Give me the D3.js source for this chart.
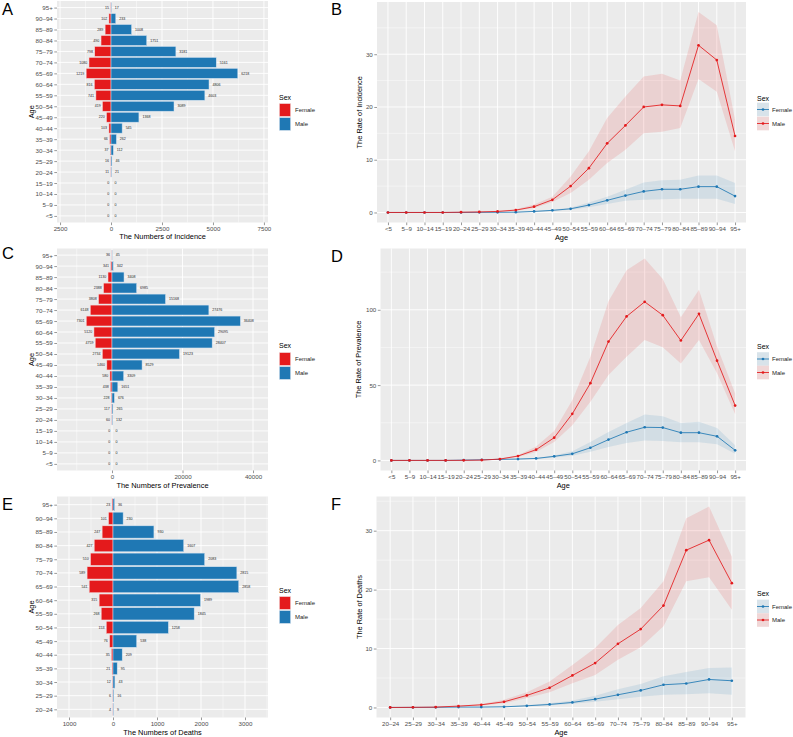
<!DOCTYPE html>
<html><head><meta charset="utf-8">
<script src="https://cdn.jsdelivr.net/npm/d3@7"></script>
<style>
body{margin:0;background:#fff;overflow:hidden}
svg{display:block}
text{font-family:"Liberation Sans",Arial,Helvetica,sans-serif}
</style>
</head><body>
<svg id="c" width="793" height="737"></svg>
<script>
// ---------- DATA ----------
const ages20 = ["<5","5–9","10–14","15–19","20–24","25–29","30–34","35–39","40–44","45–49","50–54","55–59","60–64","65–69","70–74","75–79","80–84","85–89","90–94","95+"];
const ages16 = ages20.slice(4);

// A: numbers of incidence
const incFemale = [0,0,0,0,11,16,37,66,103,220,419,741,816,1219,1080,798,490,289,102,15];
const incMale   = [0,0,0,0,21,46,112,262,545,1368,3089,4603,4806,6218,5161,3181,1751,1008,233,17];
// C: numbers of prevalence
const prevFemale = [0,0,0,0,60,117,228,438,580,1460,2734,4759,5120,7301,6148,3808,2388,1130,341,36];
const prevMale   = [0,0,0,0,132,265,676,1651,3309,8529,19123,28407,29095,36408,27476,15168,6985,3408,342,45];
// E: numbers of deaths (20-24 .. 95+)
const deathFemale = [4,6,12,21,35,76,153,268,315,541,589,510,427,247,101,23];
const deathMale   = [9,16,43,95,209,538,1258,1845,1989,2858,2815,2083,1607,930,230,36];

// B: rate of incidence
const incRateMale     = [0,0,0,0,0.05,0.1,0.2,0.45,1.1,2.4,5.0,8.4,13.1,16.5,20.0,20.4,20.2,31.7,28.9,14.5];
const incRateMaleLo   = [0,0,0,0,0.04,0.08,0.15,0.35,0.85,2.0,3.7,6.2,9.4,11.9,15.0,15.3,16.0,25.3,22.9,11.6];
const incRateMaleHi   = [0,0,0,0,0.07,0.13,0.27,0.6,1.5,3.0,6.8,11.6,17.9,22.0,25.8,26.3,25.0,38.0,35.5,17.6];
const incRateFemale   = [0,0,0,0,0.01,0.02,0.03,0.05,0.2,0.4,0.7,1.4,2.3,3.2,4.0,4.4,4.4,4.9,4.9,3.1];
const incRateFemaleLo = [0,0,0,0,0.01,0.01,0.02,0.04,0.15,0.3,0.5,1.0,1.6,2.2,2.4,2.5,2.6,2.6,2.6,1.6];
const incRateFemaleHi = [0,0,0,0,0.02,0.03,0.04,0.07,0.25,0.5,0.9,1.9,3.0,4.3,5.7,6.1,6.2,7.0,7.0,5.6];
// D: rate of prevalence
const prevRateMale     = [0,0,0,0,0.05,0.2,0.9,2.9,7.1,15.1,30.9,51.3,78.9,95.6,105.3,96.4,79.6,97.3,66.2,36.4];
const prevRateMaleLo   = [0,0,0,0,0.03,0.15,0.7,2.3,5.6,12.2,23.3,38.9,56.7,68.9,80,75.1,64.4,80,57.8,30.7];
const prevRateMaleHi   = [0,0,0,0,0.08,0.3,1.1,3.5,9.3,19.6,40,68.9,105.6,126.2,134,120.4,95.1,113.3,75.6,44.4];
const prevRateFemale   = [0,0,0,0,0.2,0.4,0.7,0.9,1.3,2.7,4.4,8.4,13.8,18.7,22,21.8,18.4,18.4,16,6.7];
const prevRateFemaleLo = [0,0,0,0,0.15,0.3,0.5,0.7,1.0,2.0,3.1,5.8,8.9,11.6,13.3,12.9,12,12,10.7,4.4];
const prevRateFemaleHi = [0,0,0,0,0.25,0.5,0.9,1.1,1.6,3.3,6,12.2,18.9,24.9,30.4,29.3,24.9,25.6,21.6,10];
// F: rate of deaths (20-24 .. 95+)
const deathRateMale     = [0,0.02,0.06,0.23,0.45,0.96,2.04,3.34,5.43,7.53,10.8,13.3,17.3,26.7,28.4,21.1];
const deathRateMaleLo   = [0,0.01,0.04,0.17,0.34,0.7,1.6,2.6,4.1,5.5,8.1,10.2,13.8,21.4,22.1,16.6];
const deathRateMaleHi   = [0,0.03,0.08,0.3,0.6,1.3,2.6,4.4,7.2,10.1,14.0,16.9,21.4,32.1,34.1,25.6];
const deathRateFemale   = [0,0.01,0.02,0.06,0.06,0.11,0.28,0.51,0.85,1.41,2.15,2.89,3.85,4.07,4.75,4.53];
const deathRateFemaleLo = [0,0.005,0.01,0.04,0.04,0.08,0.2,0.34,0.62,0.96,1.4,1.8,2.15,2.26,2.4,2.15];
const deathRateFemaleHi = [0,0.015,0.03,0.08,0.08,0.15,0.38,0.7,1.2,2.0,3.1,4.0,5.3,6.0,6.7,6.8];

const sexLabels = ["Female","Male"];

// ---------- STYLE ----------
const RED = "#E41A1C", BLUE = "#1F78B4";
const BG = "#EBEBEB", TICKTXT = "#4D4D4D", TICKLN = "#333333";
const TICKFS = 6.2, TITLEFS = 7.4;

const svg = d3.select("#c");

function styleAxis(g){
  g.select(".domain").remove();
  g.selectAll(".tick line").attr("stroke", TICKLN).attr("stroke-width", 0.5);
  g.selectAll(".tick text").attr("fill", TICKTXT).attr("font-size", TICKFS)
    .attr("font-family", "Liberation Sans, Arial, sans-serif");
}

function letter(t, x, y){
  svg.append("text").attr("x", x).attr("y", y).attr("font-size", 16.5).attr("fill","#000").text(t);
}

function pyramid(cfg){
  const {cats, fem, male, x0, x1, y0, y1, domain, ticks, minor, xtitle, titleY, leg} = cfg;
  const g = svg.append("g");
  const x = d3.scaleLinear().domain(domain).range([x0, x1]);
  const y = d3.scalePoint().domain(cats.slice().reverse()).range([y0, y1]).padding(0.6);
  const bh = y.step() * 0.9;
  g.append("rect").attr("x", x0).attr("y", y0).attr("width", x1 - x0).attr("height", y1 - y0).attr("fill", BG);
  g.selectAll(".mn").data(minor).join("line").attr("x1", d => x(d)).attr("x2", d => x(d))
    .attr("y1", y0).attr("y2", y1).attr("stroke", "#fff").attr("stroke-width", 0.45);
  g.selectAll(".mj").data(ticks).join("line").attr("x1", d => x(d)).attr("x2", d => x(d))
    .attr("y1", y0).attr("y2", y1).attr("stroke", "#fff").attr("stroke-width", 0.9);
  g.selectAll(".hj").data(cats).join("line").attr("x1", x0).attr("x2", x1)
    .attr("y1", d => y(d)).attr("y2", d => y(d)).attr("stroke", "#fff").attr("stroke-width", 0.9);
  const rows = cats.map((c, i) => ({c, f: fem[i], m: male[i]}));
  g.selectAll(".bf").data(rows).join("rect")
    .attr("x", d => x(-d.f)).attr("width", d => x(0) - x(-d.f))
    .attr("y", d => y(d.c) - bh/2).attr("height", bh)
    .attr("fill", RED).attr("stroke", "#f3d6d6").attr("stroke-width", 0.5);
  g.selectAll(".bm").data(rows).join("rect")
    .attr("x", x(0)).attr("width", d => x(d.m) - x(0))
    .attr("y", d => y(d.c) - bh/2).attr("height", bh)
    .attr("fill", BLUE).attr("stroke", "#cfe0f0").attr("stroke-width", 0.5);
  g.selectAll(".lf").data(rows).join("text")
    .attr("x", d => x(-d.f) - 1.8).attr("y", d => y(d.c) + 1.2)
    .attr("text-anchor", "end").attr("font-size", 3.6).attr("fill", "#222").text(d => d.f);
  g.selectAll(".lm").data(rows).join("text")
    .attr("x", d => x(d.m) + 3.5).attr("y", d => y(d.c) + 1.2)
    .attr("text-anchor", "start").attr("font-size", 3.6).attr("fill", "#222").text(d => d.m);
  const ax = g.append("g").attr("transform", `translate(0,${y1})`)
    .call(d3.axisBottom(x).tickValues(ticks).tickFormat(d => Math.abs(d)).tickSize(2.7).tickPadding(1.5));
  styleAxis(ax);
  const ay = g.append("g").attr("transform", `translate(${x0},0)`)
    .call(d3.axisLeft(y).tickSize(2.7).tickPadding(1.5));
  styleAxis(ay);
  g.append("text").attr("x", (x0 + x1)/2).attr("y", titleY).attr("text-anchor", "middle")
    .attr("font-size", TITLEFS).text(xtitle);
  g.append("text").attr("transform", `translate(34,${(y0 + y1)/2}) rotate(-90)`)
    .attr("text-anchor", "middle").attr("font-size", TITLEFS).text("Age");
  // legend
  const lg = g.append("g");
  lg.append("text").attr("x", 279).attr("y", leg.sex).attr("font-size", 7).text("Sex");
  [[RED, leg.f], [BLUE, leg.m]].forEach(([col, cy], i) => {
    lg.append("rect").attr("x", 279).attr("y", cy - 6.8).attr("width", 12).attr("height", 13.6).attr("fill", "#F2F2F2");
    lg.append("rect").attr("x", 279.5).attr("y", cy - 6.3).attr("width", 11).attr("height", 12.6).attr("fill", col)
      .attr("stroke", i ? "#cfe0f0" : "#f3d6d6").attr("stroke-width", 0.5);
    lg.append("text").attr("x", 295).attr("y", cy + 2).attr("font-size", 6).attr("fill", "#222").text(sexLabels[i]);
  });
}

function rates(cfg){
  const {cats, series, x0, x1, y0, y1, ticks, minor, ytitle, titleX, titleY, leg} = cfg;
  const g = svg.append("g");
  const x = d3.scalePoint().domain(cats).range([x0, x1]).padding(0.6);
  const maxV = d3.max(series, s => d3.max(s.hi));
  const y = d3.scaleLinear().domain([-0.05 * maxV, maxV * 1.05]).range([y1, y0]);
  g.append("rect").attr("x", x0).attr("y", y0).attr("width", x1 - x0).attr("height", y1 - y0).attr("fill", BG);
  g.selectAll(".mn").data(minor.filter(v => y(v) >= y0)).join("line").attr("x1", x0).attr("x2", x1)
    .attr("y1", d => y(d)).attr("y2", d => y(d)).attr("stroke", "#fff").attr("stroke-width", 0.45);
  g.selectAll(".mj").data(ticks).join("line").attr("x1", x0).attr("x2", x1)
    .attr("y1", d => y(d)).attr("y2", d => y(d)).attr("stroke", "#fff").attr("stroke-width", 0.9);
  g.selectAll(".vj").data(cats).join("line").attr("x1", d => x(d)).attr("x2", d => x(d))
    .attr("y1", y0).attr("y2", y1).attr("stroke", "#fff").attr("stroke-width", 0.9);
  const area = d3.area().x(d => x(d.c)).y0(d => y(d.lo)).y1(d => y(d.hi));
  const line = d3.line().x(d => x(d.c)).y(d => y(d.v));
  const pts = series.map(s => cats.map((c, i) => ({c, v: s.v[i], lo: s.lo[i], hi: s.hi[i]})));
  series.forEach((s, k) => {
    g.append("path").attr("d", area(pts[k])).attr("fill", s.col).attr("fill-opacity", 0.12);
  });
  series.forEach((s, k) => {
    g.append("path").attr("d", line(pts[k])).attr("fill", "none").attr("stroke", s.col).attr("stroke-width", 0.85);
    g.selectAll(null).data(pts[k]).join("circle").attr("cx", d => x(d.c)).attr("cy", d => y(d.v))
      .attr("r", 1.35).attr("fill", s.col);
  });
  const ax = g.append("g").attr("transform", `translate(0,${y1})`)
    .call(d3.axisBottom(x).tickSize(2.7).tickPadding(1.5));
  styleAxis(ax);
  const ay = g.append("g").attr("transform", `translate(${x0},0)`)
    .call(d3.axisLeft(y).tickValues(ticks).tickSize(2.7).tickPadding(1.5));
  styleAxis(ay);
  g.append("text").attr("x", (x0 + x1)/2).attr("y", titleY).attr("text-anchor", "middle")
    .attr("font-size", TITLEFS).text("Age");
  g.append("text").attr("transform", `translate(${titleX},${(y0 + y1)/2}) rotate(-90)`)
    .attr("text-anchor", "middle").attr("font-size", TITLEFS).text(ytitle);
  // legend
  const lg = g.append("g");
  lg.append("text").attr("x", 757).attr("y", leg.sex).attr("font-size", 7).text("Sex");
  [[BLUE, leg.f], [RED, leg.m]].forEach(([col, cy], i) => {
    lg.append("rect").attr("x", 757).attr("y", cy - 6.8).attr("width", 12).attr("height", 13.6).attr("fill", "#F2F2F2");
    lg.append("rect").attr("x", 757).attr("y", cy - 6.8).attr("width", 12).attr("height", 13.6).attr("fill", col).attr("fill-opacity", 0.12);
    lg.append("line").attr("x1", 757).attr("x2", 769).attr("y1", cy).attr("y2", cy).attr("stroke", col).attr("stroke-width", 0.85);
    lg.append("circle").attr("cx", 763).attr("cy", cy).attr("r", 1.35).attr("fill", col);
    lg.append("text").attr("x", 772).attr("y", cy + 2).attr("font-size", 6).attr("fill", "#222").text(sexLabels[i]);
  });
}

// ---------- PANELS ----------
pyramid({cats: ages20, fem: incFemale, male: incMale, x0: 57, x1: 268, y0: 1, y1: 222.5,
  domain: [-2650, 7700], ticks: [-2500, 0, 2500, 5000, 7500], minor: [-1250, 1250, 3750, 6250],
  xtitle: "The Numbers of Incidence", titleY: 239, leg: {sex: 100, f: 110, m: 124}});
pyramid({cats: ages20, fem: prevFemale, male: prevMale, x0: 57, x1: 268, y0: 248.5, y1: 470.5,
  domain: [-15600, 44250], ticks: [0, 20000, 40000], minor: [-10000, 10000, 30000],
  xtitle: "The Numbers of Prevalence", titleY: 487.5, leg: {sex: 348, f: 359, m: 373}});
pyramid({cats: ages16, fem: deathFemale, male: deathMale, x0: 57, x1: 268, y0: 496.5, y1: 717.5,
  domain: [-1273, 3523], ticks: [-1000, 0, 1000, 2000, 3000], minor: [-500, 500, 1500, 2500, 3500],
  xtitle: "The Numbers of Deaths", titleY: 734.5, leg: {sex: 593, f: 603, m: 617}});

rates({cats: ages20, x0: 377, x1: 746, y0: 2, y1: 222.5,
  series: [{v: incRateFemale, lo: incRateFemaleLo, hi: incRateFemaleHi, col: BLUE},
           {v: incRateMale, lo: incRateMaleLo, hi: incRateMaleHi, col: RED}],
  ticks: [0, 10, 20, 30], minor: [5, 15, 25, 35], ytitle: "The Rate of Incidence", titleX: 362, titleY: 239.5,
  leg: {sex: 100.5, f: 109.5, m: 123.5}});
rates({cats: ages20, x0: 380.5, x1: 746, y0: 248.5, y1: 470.5,
  series: [{v: prevRateFemale, lo: prevRateFemaleLo, hi: prevRateFemaleHi, col: BLUE},
           {v: prevRateMale, lo: prevRateMaleLo, hi: prevRateMaleHi, col: RED}],
  ticks: [0, 50, 100], minor: [25, 75, 125], ytitle: "The Rate of Prevalence", titleX: 361, titleY: 487.5,
  leg: {sex: 348.5, f: 359, m: 372.5}});
rates({cats: ages16, x0: 376.5, x1: 745.5, y0: 496.5, y1: 717.5,
  series: [{v: deathRateFemale, lo: deathRateFemaleLo, hi: deathRateFemaleHi, col: BLUE},
           {v: deathRateMale, lo: deathRateMaleLo, hi: deathRateMaleHi, col: RED}],
  ticks: [0, 10, 20, 30], minor: [5, 15, 25, 35], ytitle: "The Rate of Deaths", titleX: 362, titleY: 735,
  leg: {sex: 595.5, f: 606.5, m: 620}});

letter("A", 2, 15); letter("B", 331, 15);
letter("C", 2, 259); letter("D", 331, 262);
letter("E", 2, 510); letter("F", 331, 510);
</script>
</body></html>
